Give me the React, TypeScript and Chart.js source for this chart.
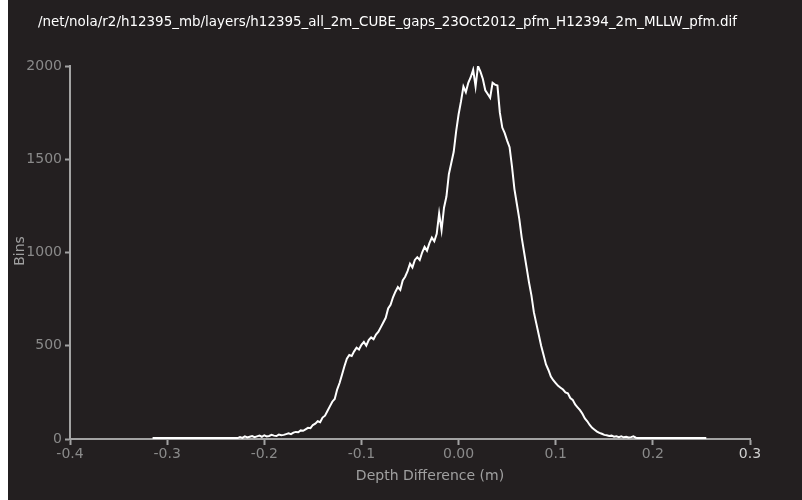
import React, { useEffect, useRef } from "react";
import { Chart, registerables } from "chart.js";

Chart.register(...registerables);

const TITLE = "/net/nola/r2/h12395_mb/layers/h12395_all_2m_CUBE_gaps_23Oct2012_pfm_H12394_2m_MLLW_pfm.dif";
const X_TITLE = "Depth Difference (m)";
const Y_TITLE = "Bins";

// Histogram definition: first bin centre and bin width (m)
const BIN_START = -0.315;
const BIN_WIDTH = 0.0025;

// Bin counts
const leftTail = [
  5, 5, 5, 5, 5, 5, 5, 5, 5, 5, 5, 5, 5, 5, 5, 5, 5, 5,
  5, 5, 5, 5, 5, 5, 5, 5, 5, 5, 5, 5, 5, 5, 5, 5, 5, 5,
];
const body = [
  10, 6, 14, 8, 12, 16, 10, 14,
  18, 12, 20, 14, 16, 22, 18, 16,
  24, 20, 22, 26, 30, 26, 34, 38,
  36, 46, 44, 52, 60, 58, 75, 82,
  95, 90, 115, 125, 150, 175, 200, 215,
  265, 300, 345, 390, 430, 450, 445, 470,
  490, 480, 505, 520, 500, 530, 545, 535,
  560, 575, 600, 625, 650, 700, 720, 760,
  790, 815, 800, 850, 870, 900, 940, 920,
  960, 975, 960, 1000, 1030, 1010, 1050, 1080,
  1060, 1100, 1210, 1120, 1240, 1300, 1420, 1480,
  1540, 1650, 1740, 1810, 1890, 1860, 1910, 1940,
  1980, 1890, 2000, 1970, 1930, 1870, 1850, 1830,
  1910, 1900, 1895, 1750, 1670, 1640, 1600, 1565,
  1460, 1340, 1260, 1180, 1080, 1000, 920, 840,
  770, 680, 620, 560, 500, 450, 400, 370,
  335, 315, 300, 285, 275, 265, 250, 245,
  220, 210, 185, 170, 155, 135, 110, 95,
  75, 60, 50, 40, 33, 28, 22, 20,
  16, 18, 12, 15, 10, 14, 9, 12,
  8, 10, 14, 7,
];
const rightTail = [
  5, 5, 5, 5, 5, 5, 5, 5, 5, 5, 5, 5, 5, 5, 5,
  5, 5, 5, 5, 5, 5, 5, 5, 5, 5, 5, 5, 5, 5,
];
const binCounts = [...leftTail, ...body, ...rightTail];

const X_MIN = -0.4;
const X_MAX = 0.3;
const X_STEP = 0.1;
const Y_MIN = 0;
const Y_MAX = 2000;
const Y_STEP = 500;

const BG = "#231f20";
const AXIS = "#a3a3a3";
const TICK_TEXT = "#8a8a8a";
const FONT = "DejaVu Sans";

export default function App() {
  const ref = useRef<HTMLCanvasElement | null>(null);

  useEffect(() => {
    if (!ref.current) return;
    const points = binCounts.map((c, i) => ({ x: BIN_START + i * BIN_WIDTH, y: c }));

    const decor = {
      id: "decor",
      beforeDraw(chart: any) {
        const { ctx, width, height } = chart;
        ctx.save();
        ctx.fillStyle = BG;
        ctx.fillRect(0, 0, width, height);
        ctx.restore();
      },
      afterDraw(chart: any) {
        const { ctx } = chart;
        ctx.save();
        ctx.fillStyle = "#ffffff";
        ctx.font = `13.45px "${FONT}"`;
        ctx.textAlign = "left";
        ctx.textBaseline = "alphabetic";
        ctx.fillText(TITLE, 30, 26);

        ctx.fillStyle = "#a0a0a0";
        ctx.font = `14px "${FONT}"`;
        ctx.textAlign = "center";
        ctx.textBaseline = "middle";
        ctx.fillText(X_TITLE, 422, 476);

        ctx.translate(12, 251);
        ctx.rotate(-Math.PI / 2);
        ctx.fillText(Y_TITLE, 0, 0);
        ctx.restore();
      },
    };

    const chart = new Chart(ref.current, {
      type: "line",
      data: {
        datasets: [
          {
            data: points,
            borderColor: "#ffffff",
            borderWidth: 2,
            pointRadius: 0,
            tension: 0,
            fill: false,
          },
        ],
      },
      options: {
        animation: false,
        responsive: false,
        maintainAspectRatio: false,
        layout: { padding: { left: 0, top: 66, right: 52, bottom: 0 } },
        plugins: {
          legend: { display: false },
          tooltip: { enabled: false },
          title: { display: false },
        },
        scales: {
          x: {
            type: "linear",
            min: X_MIN,
            max: X_MAX,
            afterFit(scale: any) {
              scale.height = 61;
            },
            ticks: {
              stepSize: X_STEP,
              padding: 1,
              color: (ctx: any) => (Math.abs(ctx.tick.value - X_MAX) < 1e-9 ? "#d0d0d0" : TICK_TEXT),
              font: { family: FONT, size: 14 },
              maxRotation: 0,
              autoSkip: false,
              callback: (v: any) => (Math.abs(Number(v)) < 1e-9 ? "0.00" : Number(v).toFixed(1)),
            },
            grid: {
              display: true,
              drawOnChartArea: false,
              drawTicks: true,
              tickLength: 6,
              tickColor: AXIS,
              tickWidth: 2,
            },
            border: { display: true, color: AXIS, width: 2 },
          },
          y: {
            type: "linear",
            min: Y_MIN,
            max: Y_MAX,
            afterFit(scale: any) {
              scale.width = 62;
            },
            ticks: {
              stepSize: Y_STEP,
              padding: 3,
              color: TICK_TEXT,
              font: { family: FONT, size: 14 },
              callback: (v: any) => String(Math.round(Number(v))),
            },
            grid: {
              display: true,
              drawOnChartArea: false,
              drawTicks: true,
              tickLength: 5,
              tickColor: AXIS,
              tickWidth: 2,
            },
            border: { display: true, color: AXIS, width: 2 },
          },
        },
      },
      plugins: [decor],
    });
    return () => chart.destroy();
  }, []);

  return (
    <div style={{ position: "fixed", left: 8, top: 0, width: 794, height: 500, background: BG }}>
      <canvas ref={ref} width={794} height={500} style={{ display: "block", width: 794, height: 500 }} />
    </div>
  );
}
